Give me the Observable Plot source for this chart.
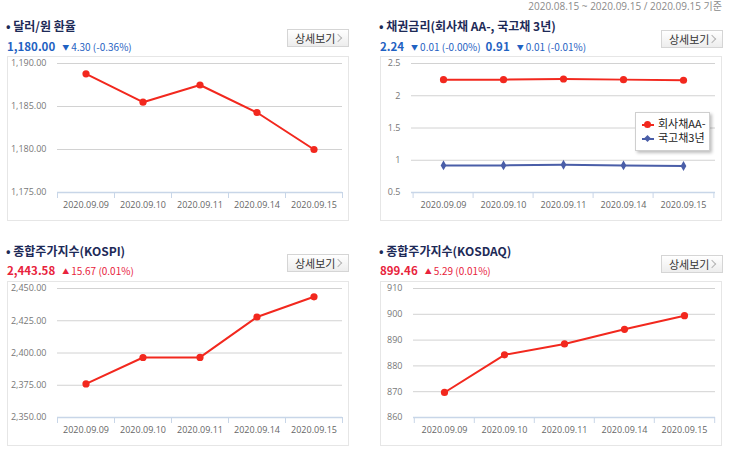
<!DOCTYPE html>
<html><head><meta charset="utf-8">
<script src="https://cdn.jsdelivr.net/npm/d3@7"></script>
<script src="https://cdn.jsdelivr.net/npm/@observablehq/plot@0.6"></script>
<style>
body{margin:0;width:743px;height:457px;position:relative;background:#fff;font-family:"Noto Sans CJK KR","Open Sans",sans-serif;overflow:hidden}
.abs{position:absolute;white-space:nowrap}
.date{right:21px;top:-1px;font-size:10px;color:#8a8a8a;line-height:14px;font-family:"Open Sans","Noto Sans CJK KR",sans-serif}
.title{font-size:12px;font-weight:bold;color:#1d2a57;line-height:16px}
.val{font-size:11px;line-height:16px}
.val b{font-weight:700;font-size:11.5px;margin-right:7px}
.val .chg{font-size:10px}
.val .tri{font-size:7px;vertical-align:1px;margin-right:2px}
.blue{color:#1f62c2}
.red{color:#e8233c}
.btn{width:60px;height:16px;border:1px solid #d5d5d5;background:linear-gradient(#ffffff,#ededed);font-size:11px;color:#333;line-height:16px;box-sizing:content-box}
.btn span.t{position:absolute;left:7px;top:0}
.btn span.c{position:absolute;left:47px;top:5px;width:5px;height:5px;border-top:1.5px solid #b5b5b5;border-right:1.5px solid #b5b5b5;transform:rotate(45deg)}
.box{width:342px;height:165px}
.frame{position:absolute;left:0;top:0;width:340px;height:163px;border:1px solid #e6e6e6;pointer-events:none}
.legend{left:635px;top:112px;width:73px;height:37px;background:#fff;border:1px solid #cfcfcf;box-shadow:2px 2px 3px rgba(0,0,0,0.25);font-size:11px;color:#222}
.legend .row{position:absolute;left:6px;height:13px;line-height:13px}
.legend .ln{position:absolute;left:0;top:6px;width:12px;height:2px}
.legend .mk{position:absolute}
.legend .tx{position:absolute;left:16px;top:-1px}
</style></head>
<body>
<div id="root"></div>
<script>
// ---- data ----
const dates = ["2020.09.09", "2020.09.10", "2020.09.11", "2020.09.14", "2020.09.15"];
const usdKrw = [1188.8, 1185.5, 1187.5, 1184.3, 1180.0];
const corpAA = [2.25, 2.25, 2.26, 2.25, 2.24];
const ktb3 = [0.92, 0.92, 0.93, 0.92, 0.91];
const kospi = [2376.0, 2396.5, 2396.6, 2427.91, 2443.58];
const kosdaq = [869.7, 884.3, 888.5, 894.17, 899.46];
const usdTicks = [1175, 1180, 1185, 1190];
const bondTicks = [0.5, 1, 1.5, 2, 2.5];
const kospiTicks = [2350, 2375, 2400, 2425, 2450];
const kosdaqTicks = [860, 870, 880, 890, 900, 910];
const seriesNames = ["회사채AA-", "국고채3년"];

const RED = "#f2281e", BLUE = "#4a5ea8";
const fmt2 = d3.format(",.2f");
const fmtPlain = d => String(d);

function chart({series, ticks, fmt, marginLeft}) {
  const W = 342, H = 165, mR = 7;
  const bw = (W - marginLeft - mR) / dates.length;
  const axisCol = "#c8d6e8";
  const marks = [
    Plot.gridY(ticks.slice(1), {stroke: "#d2d2d2", strokeOpacity: 1}),
    Plot.ruleY([ticks[0]], {stroke: axisCol, strokeWidth: 1.5}),
    Plot.axisY(ticks, {anchor: "left", label: null, tickSize: 0, tickPadding: 11, tickFormat: fmt, fill: "#777", fontSize: 9}),
    Plot.axisX(dates, {anchor: "bottom", label: null, tickSize: 6, tickFormat: () => "", dx: -bw / 2, stroke: axisCol}),
    Plot.axisX([dates[dates.length - 1]], {anchor: "bottom", label: null, tickSize: 6, tickFormat: () => "", dx: bw / 2, stroke: axisCol}),
    Plot.axisX(dates, {anchor: "bottom", label: null, tickSize: 0, tickPadding: 9, fill: "#666", fontSize: 9})
  ];
  for (const s of series) {
    const data = dates.map((d, i) => ({d, v: s.values[i]}));
    marks.push(Plot.line(data, {x: "d", y: "v", stroke: s.color, strokeWidth: 2}));
    marks.push(Plot.dot(data, {x: "d", y: "v", fill: s.color, r: s.r, symbol: s.symbol}));
  }
  return Plot.plot({
    width: W, height: H, marginTop: 7, marginBottom: 29, marginLeft, marginRight: mR,
    x: {type: "band", domain: dates, padding: 0, axis: null, label: null},
    y: {domain: [ticks[0], ticks[ticks.length - 1]], axis: null, label: null},
    style: {background: "transparent", fontFamily: "'Open Sans','Noto Sans CJK KR',sans-serif", overflow: "visible"},
    marks
  });
}

const root = document.getElementById("root");
function el(html) { const t = document.createElement("template"); t.innerHTML = html.trim(); const n = t.content.firstChild; root.appendChild(n); return n; }
function button(left, top) { el(`<div class="abs btn" style="left:${left}px;top:${top}px"><span class="t">상세보기</span><span class="c"></span></div>`); }
function place(plot, left, top) {
  const box = el(`<div class="abs box" style="left:${left}px;top:${top}px"></div>`);
  box.appendChild(plot);
  const f = document.createElement("div"); f.className = "frame"; box.appendChild(f);
}

el(`<div class="abs date">2020.08.15 ~ 2020.09.15 / 2020.09.15 기준</div>`);

// Panel 1
el(`<div class="abs title" style="left:6px;top:18px">• 달러/원 환율</div>`);
el(`<div class="abs val blue" style="left:7px;top:38px"><b>1,180.00</b><span class="chg"><span class="tri">▼</span>4.30 (-0.36%)</span></div>`);
button(287, 29);
place(chart({series: [{values: usdKrw, color: RED, r: 3.6, symbol: "circle"}], ticks: usdTicks, fmt: fmt2, marginLeft: 50}), 7, 56);

// Panel 2
el(`<div class="abs title" style="left:379px;top:18px">• 채권금리(회사채 AA-, 국고채 3년)</div>`);
el(`<div class="abs val blue" style="left:380px;top:38px"><b>2.24</b><span class="chg"><span class="tri">▼</span>0.01 (-0.00%)</span>&nbsp;&nbsp;<b>0.91</b><span class="chg"><span class="tri">▼</span>0.01 (-0.01%)</span></div>`);
button(661, 30);
place(chart({series: [{values: corpAA, color: RED, r: 3.6, symbol: "circle"}, {values: ktb3, color: BLUE, r: 3, symbol: "diamond"}], ticks: bondTicks, fmt: fmtPlain, marginLeft: 31}), 380, 56);
el(`<div class="abs legend">
  <div class="row" style="top:5px"><span class="ln" style="background:${RED}"></span><span class="mk" style="left:2px;top:3px;width:7px;height:7px;border-radius:50%;background:${RED}"></span><span class="tx">${seriesNames[0]}</span></div>
  <div class="row" style="top:19px"><span class="ln" style="background:${BLUE}"></span><span class="mk" style="left:3px;top:4px;width:5px;height:5px;transform:rotate(45deg);background:${BLUE}"></span><span class="tx">${seriesNames[1]}</span></div>
</div>`);

// Panel 3
el(`<div class="abs title" style="left:6px;top:243px">• 종합주가지수(KOSPI)</div>`);
el(`<div class="abs val red" style="left:7px;top:262px"><b>2,443.58</b><span class="chg"><span class="tri">▲</span>15.67 (0.01%)</span></div>`);
button(287, 254);
place(chart({series: [{values: kospi, color: RED, r: 3.6, symbol: "circle"}], ticks: kospiTicks, fmt: fmt2, marginLeft: 50}), 7, 281);

// Panel 4
el(`<div class="abs title" style="left:379px;top:243px">• 종합주가지수(KOSDAQ)</div>`);
el(`<div class="abs val red" style="left:380px;top:262px"><b>899.46</b><span class="chg"><span class="tri">▲</span>5.29 (0.01%)</span></div>`);
button(661, 255);
place(chart({series: [{values: kosdaq, color: RED, r: 3.6, symbol: "circle"}], ticks: kosdaqTicks, fmt: fmtPlain, marginLeft: 33}), 380, 281);
</script>
</body></html>
